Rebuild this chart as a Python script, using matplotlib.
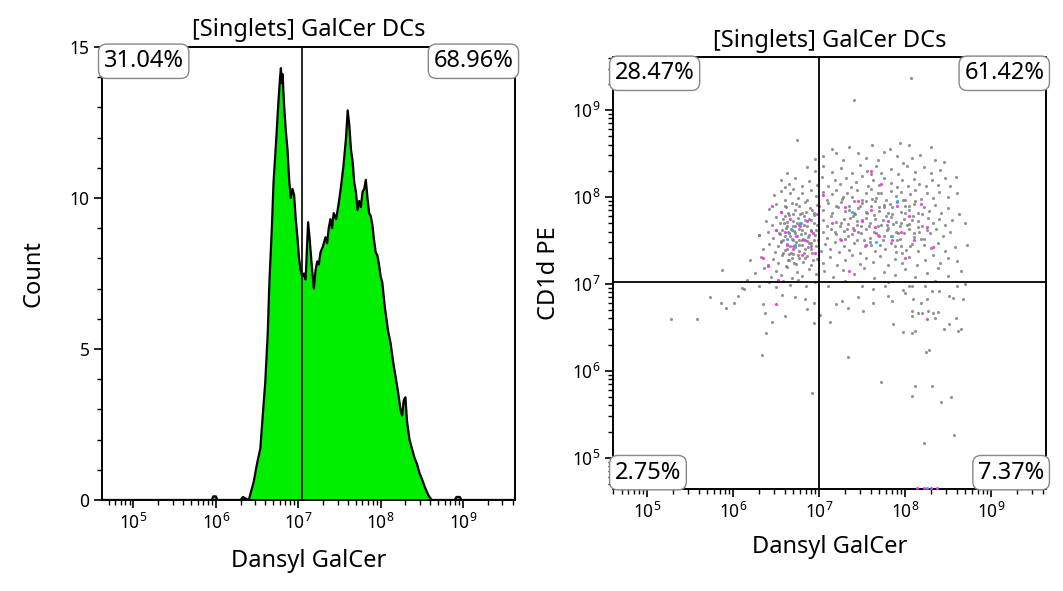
import matplotlib
matplotlib.use("Agg")
import matplotlib.pyplot as plt
import numpy as np
from matplotlib.ticker import LogLocator, MultipleLocator

plt.rcParams['font.family'] = ['Noto Sans', 'DejaVu Sans']

# histogram trace: log10(Dansyl GalCer) vs count
hist_logx = [4.60, 5.95, 5.97, 6.00, 6.02, 6.30, 6.33, 6.36, 6.40, 6.42, 6.46, 6.50, 6.54, 6.57,
             6.60, 6.63, 6.65, 6.68, 6.70, 6.73, 6.76, 6.78, 6.79, 6.80, 6.81, 6.83, 6.85, 6.87,
             6.89, 6.91, 6.93, 6.95, 6.97, 6.99, 7.01, 7.03, 7.05, 7.07, 7.09, 7.11, 7.12, 7.14,
             7.16, 7.19, 7.21, 7.23, 7.25, 7.27, 7.30, 7.33, 7.35, 7.37, 7.39, 7.41, 7.43, 7.46,
             7.49, 7.52, 7.55, 7.58, 7.60, 7.62, 7.64, 7.66, 7.68, 7.70, 7.72, 7.74, 7.76, 7.78,
             7.80, 7.82, 7.84, 7.86, 7.88, 7.90, 7.92, 7.94, 7.96, 7.98, 8.00, 8.02, 8.05, 8.09,
             8.12, 8.15, 8.18, 8.21, 8.24, 8.26, 8.28, 8.30, 8.32, 8.35, 8.38, 8.41, 8.44, 8.47,
             8.50, 8.54, 8.58, 8.62, 8.90, 8.92, 8.96, 8.98, 9.70]
hist_count = [0, 0, 0.12, 0.12, 0, 0, 0.1, 0.05, 0, 0.2, 0.6, 1.2, 1.7, 2.8,
              3.9, 5.5, 7.2, 9.0, 10.5, 11.8, 13.2, 14.0, 14.3, 13.8, 14.1, 13.0, 12.2, 11.6,
              10.6, 10.0, 10.3, 10.1, 9.3, 8.7, 8.0, 7.6, 7.4, 7.5, 7.3, 8.6, 9.2, 8.6,
              7.9, 7.0, 7.6, 7.9, 7.8, 8.2, 8.4, 8.7, 8.5, 9.0, 9.3, 9.0, 9.5, 9.3,
              9.8, 10.4, 11.1, 12.0, 12.9, 12.4, 11.6, 11.2, 10.5, 10.2, 9.6, 9.9, 9.7, 10.2,
              10.3, 10.6, 10.0, 9.5, 9.4, 9.1, 8.6, 8.2, 8.1, 7.8, 7.4, 7.2, 6.4, 5.6,
              5.2, 4.6, 4.1, 3.6, 3.0, 2.8, 3.3, 3.4, 2.6, 2.0, 1.7, 1.4, 1.2, 0.9,
              0.7, 0.4, 0.15, 0, 0, 0.1, 0.1, 0, 0]

hist_gate = 1.12e7
hist_pcts = ["31.04%", "68.96%"]

# scatter: log10(Dansyl GalCer), log10(CD1d PE)
gray_pts = [
    (6.74, 8.66), (7.35, 8.58), (7.62, 8.60), (7.94, 8.62), (8.30, 8.57), (7.15, 8.55), (7.82, 8.55), (8.05, 8.60),
    (7.40, 9.11), (8.07, 9.37),
    (7.05, 8.47), (7.28, 8.42), (7.45, 8.50), (7.69, 8.43), (7.98, 8.39), (8.17, 8.48), (6.95, 8.44), (7.55, 8.45),
    (7.75, 8.52), (8.08, 8.45), (8.35, 8.42), (7.20, 8.50), (7.90, 8.47), (8.45, 8.40),
    (6.86, 8.34), (6.62, 8.28), (6.95, 8.30), (7.05, 8.36), (7.15, 8.29), (7.25, 8.33), (7.38, 8.27), (7.47, 8.37),
    (7.56, 8.30), (7.66, 8.35), (7.72, 8.27), (7.83, 8.32), (7.92, 8.26), (8.02, 8.35), (8.12, 8.29), (8.22, 8.34),
    (8.30, 8.27), (8.41, 8.31), (8.59, 8.23), (7.60, 8.26),
    (6.55, 8.20), (6.65, 8.15), (6.72, 8.22), (6.80, 8.12), (6.88, 8.18), (6.97, 8.14), (7.03, 8.23), (7.10, 8.12),
    (7.18, 8.20), (7.24, 8.15), (7.31, 8.22), (7.37, 8.11), (7.43, 8.17), (7.50, 8.24), (7.57, 8.13), (7.63, 8.19),
    (7.70, 8.14), (7.76, 8.22), (7.84, 8.16), (7.90, 8.11), (7.96, 8.20), (8.03, 8.13), (8.10, 8.21), (8.16, 8.15),
    (8.24, 8.12), (8.31, 8.19), (8.38, 8.14), (8.46, 8.22), (8.52, 8.12), (6.60, 8.11),
    (6.47, 8.02), (6.55, 8.07), (6.60, 7.97), (6.66, 8.05), (6.70, 8.09), (6.75, 7.99), (6.80, 8.04), (6.86, 7.96),
    (6.90, 8.08), (6.96, 8.01), (7.04, 8.06), (7.09, 7.97), (7.15, 8.03), (7.20, 8.08), (7.26, 7.98), (7.32, 8.05),
    (7.38, 8.00), (7.44, 8.08), (7.50, 7.96), (7.55, 8.04), (7.60, 8.09), (7.66, 7.99), (7.72, 8.05), (7.78, 7.97),
    (7.83, 8.07), (7.89, 8.01), (7.95, 8.06), (8.00, 7.96), (8.06, 8.03), (8.12, 8.08), (8.18, 7.98), (8.25, 8.04),
    (8.32, 7.99), (8.40, 8.06), (8.50, 8.00), (8.60, 8.05),
    (6.42, 7.86), (6.50, 7.92), (6.55, 7.83), (6.60, 7.90), (6.64, 7.81), (6.68, 7.93), (6.72, 7.85), (6.76, 7.90),
    (6.80, 7.82), (6.84, 7.94), (6.89, 7.87), (6.94, 7.81), (6.98, 7.91), (7.05, 7.85), (7.10, 7.93), (7.15, 7.82),
    (7.20, 7.89), (7.25, 7.94), (7.30, 7.84), (7.35, 7.90), (7.40, 7.81), (7.45, 7.87), (7.50, 7.93), (7.55, 7.83),
    (7.60, 7.89), (7.65, 7.95), (7.70, 7.84), (7.75, 7.91), (7.80, 7.82), (7.85, 7.88), (7.90, 7.94), (7.95, 7.83),
    (8.00, 7.90), (8.05, 7.85), (8.10, 7.92), (8.15, 7.81), (8.22, 7.88), (8.28, 7.84), (8.35, 7.91), (8.42, 7.82),
    (8.63, 7.80), (8.50, 7.87),
    (6.38, 7.72), (6.45, 7.68), (6.50, 7.77), (6.54, 7.70), (6.58, 7.75), (6.62, 7.66), (6.65, 7.79), (6.69, 7.72),
    (6.72, 7.67), (6.75, 7.76), (6.79, 7.70), (6.82, 7.78), (6.86, 7.66), (6.90, 7.73), (6.94, 7.79), (6.98, 7.68),
    (7.04, 7.74), (7.09, 7.67), (7.14, 7.78), (7.19, 7.71), (7.24, 7.66), (7.29, 7.75), (7.34, 7.69), (7.39, 7.78),
    (7.44, 7.72), (7.49, 7.66), (7.54, 7.76), (7.59, 7.70), (7.64, 7.79), (7.69, 7.67), (7.74, 7.74), (7.79, 7.68),
    (7.84, 7.77), (7.89, 7.71), (7.94, 7.66), (7.99, 7.75), (8.04, 7.69), (8.09, 7.78), (8.15, 7.72), (8.20, 7.67),
    (8.27, 7.76), (8.33, 7.70), (8.40, 7.75), (8.47, 7.68), (8.55, 7.73), (8.70, 7.70),
    (6.30, 7.56), (6.40, 7.60), (6.46, 7.53), (6.50, 7.62), (6.54, 7.57), (6.58, 7.51), (6.61, 7.64), (6.65, 7.58),
    (6.68, 7.52), (6.71, 7.61), (6.74, 7.55), (6.77, 7.63), (6.80, 7.50), (6.83, 7.59), (6.87, 7.54), (6.91, 7.62),
    (6.95, 7.56), (6.99, 7.51), (7.04, 7.60), (7.09, 7.53), (7.14, 7.63), (7.19, 7.57), (7.24, 7.52), (7.29, 7.61),
    (7.34, 7.55), (7.39, 7.64), (7.44, 7.50), (7.49, 7.58), (7.54, 7.63), (7.59, 7.53), (7.64, 7.60), (7.69, 7.56),
    (7.74, 7.51), (7.79, 7.62), (7.84, 7.55), (7.89, 7.60), (7.94, 7.52), (7.99, 7.58), (8.05, 7.63), (8.10, 7.54),
    (8.16, 7.60), (8.22, 7.52), (8.29, 7.58), (8.36, 7.63), (8.44, 7.55), (8.52, 7.60),
    (6.34, 7.40), (6.42, 7.46), (6.48, 7.37), (6.52, 7.44), (6.56, 7.49), (6.60, 7.39), (6.63, 7.46), (6.67, 7.36),
    (6.70, 7.43), (6.73, 7.48), (6.77, 7.38), (6.80, 7.45), (6.84, 7.40), (6.88, 7.47), (6.92, 7.36), (6.96, 7.43),
    (7.02, 7.38), (7.07, 7.46), (7.12, 7.40), (7.18, 7.48), (7.23, 7.37), (7.29, 7.44), (7.35, 7.39), (7.41, 7.47),
    (7.47, 7.36), (7.53, 7.43), (7.59, 7.48), (7.65, 7.38), (7.71, 7.45), (7.77, 7.40), (7.83, 7.47), (7.89, 7.37),
    (7.95, 7.44), (8.01, 7.39), (8.08, 7.46), (8.15, 7.38), (8.22, 7.45), (8.30, 7.41), (8.38, 7.47), (8.47, 7.38),
    (8.72, 7.45), (8.58, 7.42),
    (6.20, 7.27), (6.32, 7.31), (6.40, 7.22), (6.46, 7.29), (6.52, 7.24), (6.57, 7.33), (6.61, 7.21), (6.65, 7.28),
    (6.69, 7.34), (6.73, 7.23), (6.77, 7.30), (6.81, 7.25), (6.86, 7.32), (6.91, 7.22), (6.97, 7.29), (7.05, 7.24),
    (7.13, 7.31), (7.21, 7.22), (7.30, 7.28), (7.38, 7.33), (7.47, 7.23), (7.55, 7.30), (7.63, 7.25), (7.71, 7.32),
    (7.80, 7.22), (7.88, 7.29), (7.96, 7.24), (8.05, 7.31), (8.14, 7.22), (8.23, 7.28), (8.32, 7.33), (8.41, 7.24),
    (8.50, 7.30), (8.60, 7.26),
    (5.87, 7.16), (6.25, 7.12), (6.36, 7.18), (6.44, 7.08), (6.50, 7.15), (6.56, 7.10), (6.62, 7.19), (6.68, 7.07),
    (6.74, 7.14), (6.80, 7.09), (6.88, 7.17), (6.96, 7.11), (7.06, 7.15), (7.16, 7.08), (7.28, 7.16), (7.40, 7.11),
    (7.52, 7.18), (7.64, 7.07), (7.76, 7.14), (7.88, 7.10), (8.00, 7.17), (8.12, 7.08), (8.25, 7.13), (8.38, 7.18),
    (8.50, 7.09), (8.65, 7.15),
    (6.16, 7.04), (6.30, 6.98), (6.42, 7.02), (6.50, 6.96), (6.58, 7.03), (6.66, 6.99), (6.75, 7.04), (6.85, 6.97),
    (6.95, 7.02), (7.10, 6.98), (7.30, 7.03), (7.50, 6.97), (7.80, 7.02), (8.05, 6.98), (8.35, 7.03), (8.60, 6.97),
    (6.30, 7.56), (6.10, 6.95), (5.27, 6.59),
    # dense core, left population
    (6.57, 7.62), (6.60, 7.55), (6.63, 7.71), (6.66, 7.44), (6.69, 7.80), (6.72, 7.58), (6.75, 7.33), (6.78, 7.66),
    (6.81, 7.52), (6.84, 7.74), (6.87, 7.42), (6.90, 7.61), (6.93, 7.28), (6.58, 7.35), (6.61, 7.88), (6.64, 7.27),
    (6.67, 7.63), (6.70, 7.50), (6.73, 7.92), (6.76, 7.45), (6.79, 7.57), (6.82, 7.36), (6.85, 7.83), (6.88, 7.56),
    (6.91, 7.47), (6.94, 7.70), (6.56, 7.48), (6.62, 7.40), (6.68, 7.30), (6.74, 7.70), (6.80, 7.62), (6.86, 7.49),
    (6.92, 7.85), (6.60, 7.78), (6.66, 7.55), (6.72, 7.42), (6.78, 7.80), (6.84, 7.30), (6.90, 7.40), (6.96, 7.62),
    (6.64, 7.60), (6.70, 7.66), (6.76, 7.50), (6.82, 7.68), (6.88, 7.75), (6.94, 7.50), (6.53, 7.58), (6.59, 7.70),
    (6.65, 7.34), (6.71, 7.24),
    # dense core, right population
    (7.25, 7.70), (7.35, 7.85), (7.45, 7.60), (7.55, 7.95), (7.65, 7.75), (7.75, 7.55), (7.85, 7.80), (7.95, 7.70),
    (8.05, 7.90), (8.15, 7.65), (7.30, 7.52), (7.40, 7.95), (7.50, 7.73), (7.60, 7.45), (7.70, 7.88), (7.80, 7.64),
    (7.90, 7.50), (8.00, 7.82), (8.10, 7.58), (8.20, 7.80), (7.22, 7.88), (7.32, 7.63), (7.42, 7.80), (7.52, 7.50),
    (7.62, 7.98), (7.72, 7.68), (7.82, 7.92), (7.92, 7.58), (8.02, 7.68), (8.12, 7.95), (7.28, 8.00), (7.38, 7.57),
    (7.48, 7.90), (7.58, 7.66), (7.68, 8.05), (7.78, 7.78), (7.88, 7.43), (7.98, 7.97), (8.08, 7.74), (8.18, 7.52),
    (7.44, 7.68), (7.66, 7.58), (7.86, 7.69), (8.26, 7.62), (7.18, 7.60), (7.56, 7.82), (7.76, 7.88), (7.96, 7.36),
    (8.06, 7.44), (7.36, 7.76),
    # below the horizontal gate
    (5.73, 6.85), (5.58, 6.60), (5.86, 6.78), (5.92, 6.72), (6.01, 6.78), (6.06, 6.86), (6.12, 6.94), (6.35, 6.77),
    (6.37, 6.66), (6.38, 6.44), (6.33, 6.18), (6.45, 6.56), (6.60, 6.63), (6.57, 6.87), (6.72, 6.85), (6.83, 6.83),
    (6.86, 6.71), (6.94, 6.78), (6.94, 6.55), (6.92, 5.75), (7.01, 6.64), (7.12, 6.56), (7.20, 6.77), (7.27, 6.80),
    (7.34, 6.72), (7.34, 6.16), (7.45, 6.85), (7.51, 6.69), (7.63, 6.78), (7.72, 5.87), (7.86, 6.54), (7.98, 6.45),
    (8.08, 6.44), (8.12, 6.46), (8.08, 5.71), (8.12, 5.82), (8.22, 5.17), (8.24, 6.22), (8.28, 6.24), (8.31, 5.83),
    (8.42, 5.64), (8.53, 5.70), (8.57, 5.26), (8.35, 6.61), (8.45, 6.48), (8.51, 6.54), (8.62, 6.46), (8.65, 6.48),
    (8.59, 6.61), (8.51, 6.86), (8.56, 6.84), (8.67, 6.83), (8.70, 7.00), (8.19, 6.78), (8.20, 6.67), (8.15, 6.67),
    (8.08, 6.69), (8.08, 6.63), (8.09, 6.83), (8.27, 6.69), (8.33, 6.67), (8.38, 6.68), (8.31, 6.92), (8.40, 6.92),
    (8.26, 6.83), (8.00, 6.89), (7.98, 6.93), (7.85, 6.80), (7.80, 6.86), (7.77, 6.97), (7.63, 6.94), (8.08, 6.97),
    (8.23, 6.97),
]
magenta_pts = [
    (6.45, 7.90), (6.50, 7.62), (6.55, 7.83), (6.60, 7.60), (6.62, 7.45), (6.66, 7.75), (6.70, 7.40), (6.73, 7.55),
    (6.76, 7.68), (6.80, 7.33), (6.83, 7.50), (6.86, 7.72), (6.90, 7.44), (6.93, 7.58), (6.98, 7.80), (6.40, 7.20),
    (6.52, 7.05), (6.35, 7.30), (6.50, 6.77), (6.95, 7.35), (7.05, 8.02), (7.15, 7.70), (7.25, 7.50), (7.30, 7.88),
    (7.40, 7.62), (7.45, 7.95), (7.50, 7.72), (7.55, 7.45), (7.60, 7.85), (7.65, 7.65), (7.70, 7.55), (7.72, 8.15),
    (7.80, 7.72), (7.85, 7.50), (7.90, 7.90), (7.95, 7.60), (8.00, 7.30), (8.05, 7.78), (8.10, 7.50), (8.18, 7.92),
    (8.25, 7.65), (8.32, 7.42), (7.35, 7.15), (7.60, 8.30), (8.26, 6.60), (7.00, 7.90),
    (8.14, 4.65), (8.22, 4.65), (8.30, 4.65), (8.37, 4.65),
]
cyan_pts = [
    (6.68, 7.62), (6.72, 7.45), (6.62, 7.52), (6.78, 7.70), (7.38, 7.83), (7.66, 7.48), (7.90, 7.95), (7.85, 7.55),
    (8.26, 4.65),
]

scatter_gate_x = 1.0e7
scatter_gate_y = 1.05e7
scatter_pcts = ["28.47%", "61.42%", "2.75%", "7.37%"]

title = "[Singlets] GalCer DCs"


def style_axis(ax):
    for s in ax.spines.values():
        s.set_linewidth(1.4)
        s.set_color('black')
    ax.tick_params(which='major', direction='out', length=6, width=1.2, labelsize=12.5, pad=3)
    ax.tick_params(which='minor', direction='out', length=3.5, width=1.0)


def quad_label(ax, x, y, txt, ha, va):
    ax.text(x, y, txt, transform=ax.transAxes, ha=ha, va=va, fontsize=17, zorder=10,
            bbox=dict(boxstyle='round,pad=0.22,rounding_size=0.35', fc='white', ec='#888888', lw=1.0))


fig = plt.figure(figsize=(10.63, 5.91), dpi=100)

# ---- histogram
ax1 = fig.add_axes([0.096, 0.154, 0.3885, 0.7665])
hx = 10 ** np.array(hist_logx)
ax1.fill_between(hx, hist_count, 0, color='#00ee00', lw=0)
ax1.plot(hx, hist_count, color='black', lw=1.6)
ax1.axvline(hist_gate, color='black', lw=1.2)
ax1.set_xscale('log')
ax1.set_xlim(10 ** 4.62, 10 ** 9.63)
ax1.set_ylim(0, 15)
ax1.yaxis.set_major_locator(MultipleLocator(5))
ax1.yaxis.set_minor_locator(MultipleLocator(1))
ax1.xaxis.set_major_locator(LogLocator(base=10, numticks=20))
ax1.xaxis.set_minor_locator(LogLocator(base=10, subs=np.arange(2, 10), numticks=20))
style_axis(ax1)
ax1.set_title(title, fontsize=17, pad=8)
ax1.set_xlabel("Dansyl GalCer", fontsize=17, labelpad=12)
ax1.set_ylabel("Count", fontsize=17, labelpad=17)
quad_label(ax1, 0.004, 0.995, hist_pcts[0], 'left', 'top')
quad_label(ax1, 0.996, 0.995, hist_pcts[1], 'right', 'top')

# ---- dot plot
ax2 = fig.add_axes([0.5767, 0.1726, 0.4073, 0.731])
for pts, col, a in [(gray_pts, '#7a7a7a', 0.8), (magenta_pts, '#ff2cff', 0.95), (cyan_pts, '#2fa8ff', 0.95)]:
    arr = np.array(pts)
    ax2.scatter(10 ** arr[:, 0], 10 ** arr[:, 1], s=5, color=col, alpha=a, lw=0, zorder=3)
ax2.axvline(scatter_gate_x, color='black', lw=1.3, zorder=5)
ax2.axhline(scatter_gate_y, color='black', lw=1.3, zorder=5)
ax2.set_xscale('log')
ax2.set_yscale('log')
ax2.set_xlim(10 ** 4.6, 10 ** 9.64)
ax2.set_ylim(10 ** 4.64, 10 ** 9.61)
for axis in (ax2.xaxis, ax2.yaxis):
    axis.set_major_locator(LogLocator(base=10, numticks=20))
    axis.set_minor_locator(LogLocator(base=10, subs=np.arange(2, 10), numticks=20))
style_axis(ax2)
ax2.set_title(title, fontsize=17, pad=7)
ax2.set_xlabel("Dansyl GalCer", fontsize=17, labelpad=10)
ax2.set_ylabel("CD1d PE", fontsize=17, labelpad=8)
quad_label(ax2, 0.004, 0.99, scatter_pcts[0], 'left', 'top')
quad_label(ax2, 0.996, 0.99, scatter_pcts[1], 'right', 'top')
quad_label(ax2, 0.004, 0.01, scatter_pcts[2], 'left', 'bottom')
quad_label(ax2, 0.996, 0.01, scatter_pcts[3], 'right', 'bottom')

fig.savefig("out.png", dpi=100)
